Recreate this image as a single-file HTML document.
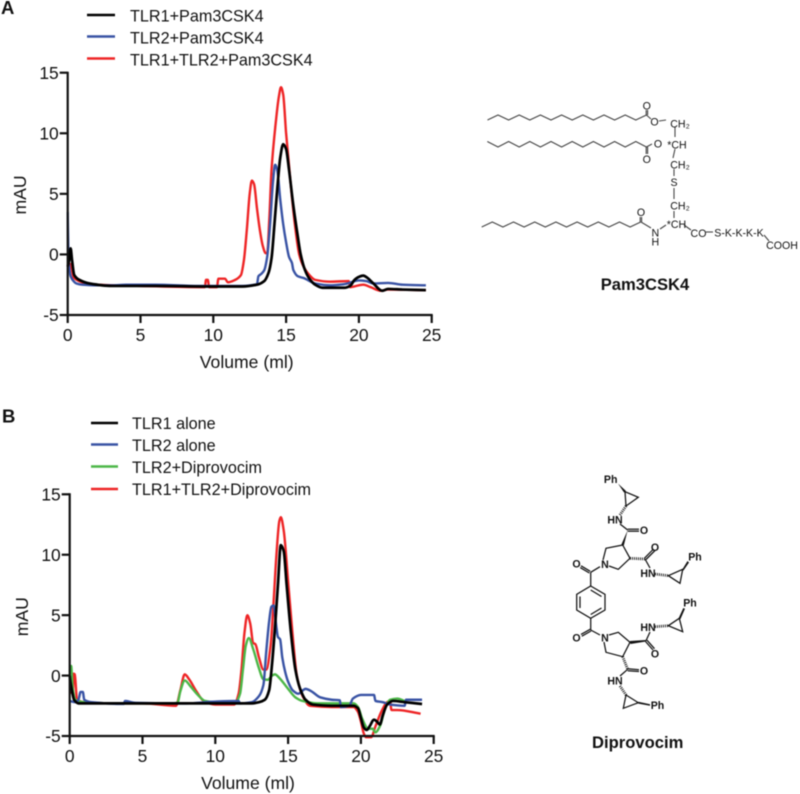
<!DOCTYPE html>
<html lang="en">
<head>
<meta charset="utf-8">
<title>Size-exclusion chromatography traces</title>
<style>
html,body{margin:0;padding:0;background:#fff;width:800px;height:794px;overflow:hidden}
svg{display:block;position:absolute;left:0;top:0;filter:blur(0.4px)}
text{font-family:"Liberation Sans",sans-serif;fill:#111}
.leg{font-size:16.2px}
.tick{font-size:17.4px}
.title{font-size:17.6px}
.panel{font-size:18.5px;font-weight:bold;fill:#111}
.pam text{font-size:10.6px;fill:#111;text-anchor:middle}
.dip text{font-size:10.6px;font-weight:bold;fill:#111;text-anchor:middle}
.pam text.name,.dip text.name{font-size:16.6px;font-weight:bold;fill:#111;text-anchor:middle}
.pam line,.pam polyline{stroke:#444;stroke-width:1.1;fill:none}
.dip line,.dip polyline,.dip polygon{stroke:#111;stroke-width:1.25;fill:none}
.dip polygon.w{fill:#111;stroke:none}
.dip line.h{stroke-width:2.8;stroke-dasharray:0.9 1.1}
</style>
</head>
<body>
<svg id="fig" width="800" height="794" viewBox="0 0 800 794" xmlns="http://www.w3.org/2000/svg">
  <text class="panel" x="1" y="14">A</text>
  <text class="panel" x="2" y="422.5">B</text>

  <g id="legend-a">
    <line x1="87" x2="115" y1="15" y2="15" stroke="#000" stroke-width="2.5"/>
    <text class="leg" x="130" y="21.5">TLR1+Pam3CSK4</text>
    <line x1="87" x2="115" y1="36.5" y2="36.5" stroke="#3953a4" stroke-width="2.5"/>
    <text class="leg" x="130" y="43.5">TLR2+Pam3CSK4</text>
    <line x1="87" x2="115" y1="58.5" y2="58.5" stroke="#ee2526" stroke-width="2.5"/>
    <text class="leg" x="130" y="65.5">TLR1+TLR2+Pam3CSK4</text>
  </g>
  <g id="legend-b">
    <line x1="91" x2="118" y1="423" y2="423" stroke="#000" stroke-width="2.5"/>
    <text class="leg" x="132" y="429">TLR1 alone</text>
    <line x1="91" x2="118" y1="444.5" y2="444.5" stroke="#3953a4" stroke-width="2.5"/>
    <text class="leg" x="132" y="451">TLR2 alone</text>
    <line x1="91" x2="118" y1="466.5" y2="466.5" stroke="#4cb748" stroke-width="2.5"/>
    <text class="leg" x="132" y="473">TLR2+Diprovocim</text>
    <line x1="91" x2="118" y1="489" y2="489" stroke="#ee2526" stroke-width="2.5"/>
    <text class="leg" x="132" y="495">TLR1+TLR2+Diprovocim</text>
  </g>

  <!-- Pam3CSK4 structure -->
  <g class="pam">
    <polyline id="chain1" points="487.5,120 498,115 508.6,120 519.2,115 529.8,120 540.4,115 551,120 561.6,115 572.2,120 582.8,115 593.4,120 604,115 614.6,120 625.2,115 635.8,120 646.4,115"/>
    <polyline points="487.3,141.5 498,147 508.6,141.5 519.2,147 529.8,141.5 540.4,147 551,141.5 561.6,147 572.2,141.5 582.8,147 593.4,141.5 604,147 614.6,141.5 625.2,147 635.8,141.5 646.4,147"/>
    <polyline points="481.7,227 492.3,222 502.9,227 513.5,222 524.1,227 534.7,222 545.3,227 555.9,222 566.5,227 577.1,222 587.7,227 598.3,222 608.9,227 619.5,222 630.1,227 640.7,222"/>
    <line x1="646.2" y1="115" x2="646.2" y2="110"/><line x1="647.6" y1="115" x2="647.6" y2="110"/>
    <line x1="646.4" y1="115" x2="651" y2="119"/>
    <line x1="659" y1="121" x2="666" y2="120"/>
    <line x1="675" y1="127" x2="675" y2="137"/>
    <line x1="646.2" y1="147" x2="646.2" y2="154"/><line x1="647.6" y1="147" x2="647.6" y2="154"/>
    <line x1="646.4" y1="147" x2="652" y2="144"/>
    <line x1="675" y1="149" x2="673" y2="158"/>
    <line x1="674" y1="169" x2="674" y2="176"/>
    <line x1="674" y1="188" x2="674" y2="199"/>
    <line x1="674" y1="211" x2="674" y2="218"/>
    <line x1="640.2" y1="222" x2="640.2" y2="217"/><line x1="641.6" y1="222" x2="641.6" y2="217"/>
    <line x1="641" y1="222" x2="651" y2="228"/>
    <line x1="660" y1="229" x2="666" y2="225"/>
    <line x1="684" y1="225" x2="691" y2="230"/>
    <line x1="706" y1="232" x2="713" y2="232"/>
    <line x1="764" y1="235" x2="769" y2="241"/>
    <text x="646.8" y="109.5">O</text>
    <text x="654.5" y="125.5">O</text>
    <text x="680" y="127.5">CH₂</text>
    <text x="658" y="147.5">O</text>
    <text x="677" y="148.5">*CH</text>
    <text x="646.8" y="163">O</text>
    <text x="680" y="168.5">CH₂</text>
    <text x="674" y="186">S</text>
    <text x="680" y="209.5">CH₂</text>
    <text x="641" y="216">O</text>
    <text x="655.3" y="236.5">N</text>
    <text x="655.3" y="245.5">H</text>
    <text x="676.5" y="228">*CH</text>
    <text x="698.5" y="237">CO</text>
    <text x="739" y="236.5">S-K-K-K-K</text>
    <text x="782" y="249">COOH</text>
    <text class="name" x="645" y="290">Pam3CSK4</text>
  </g>

  <!-- Diprovocim structure -->
  <g class="dip">
    <polygon class="w" points="618,483.5 626,491 624,492.5"/>
    <polygon points="625,491.7 638.3,497.3 626,506"/>
    <line class="h" x1="626" y1="506" x2="620" y2="515"/>
    <line x1="620" y1="524" x2="627.7" y2="530"/>
    <line x1="627.7" y1="529.2" x2="639" y2="529.2"/><line x1="627.7" y1="531.2" x2="639" y2="531.2"/>
    <polygon class="w" points="627.7,530 623.8,545.5 621.4,544.5"/>
    <polyline points="622.7,545 606,548.3 603,560"/>
    <polyline points="609,566 618.3,569.3 630,558.3 622.7,545"/>
    <line class="h" x1="630" y1="558.3" x2="645" y2="559"/>
    <line x1="644.5" y1="558.2" x2="653.5" y2="549"/><line x1="646" y1="559.5" x2="655" y2="550.5"/>
    <line x1="645" y1="559" x2="650" y2="568"/>
    <line class="h" x1="655" y1="574" x2="668.3" y2="575.7"/>
    <polygon points="668.3,575.7 682.7,569.3 680,583.3"/>
    <polygon class="w" points="682,570 687.5,561 689,562.5 683.5,570.5"/>
    <line x1="600" y1="566.7" x2="590.7" y2="572.3"/>
    <line x1="590.2" y1="571.3" x2="581" y2="565.8"/><line x1="589.4" y1="573" x2="580.2" y2="567.6"/>
    <line x1="590.7" y1="572.3" x2="590.7" y2="586"/>
    <polygon points="590.7,586 605,594.3 605,610 590.7,618.3 576.7,610 576.7,594.3"/>
    <line x1="590.7" y1="590" x2="601.5" y2="596.5"/><line x1="601.5" y1="608" x2="590.7" y2="614.5"/><line x1="580" y1="608" x2="580" y2="596.5"/>
    <line x1="590.7" y1="618.3" x2="590.7" y2="630"/>
    <line x1="590.4" y1="629.2" x2="581" y2="634.4"/><line x1="591" y1="631" x2="581.8" y2="636.2"/>
    <line x1="590.7" y1="630" x2="600" y2="635"/>
    <polyline points="609,635 618.3,632.3 630,642.3 622.7,656.7 606,652.3 604,642"/>
    <polygon class="w" points="630,641 646,640 646,641.5 630.5,644"/>
    <line x1="645.5" y1="641.5" x2="653" y2="650"/><line x1="647" y1="640.2" x2="654.5" y2="648.7"/>
    <line x1="646" y1="640.7" x2="650" y2="632"/>
    <line class="h" x1="655" y1="626.7" x2="668.3" y2="625.7"/>
    <polygon points="668.3,625.7 679.3,618.3 682.7,631.7"/>
    <polygon class="w" points="678.5,618.5 683.3,608 685,608.8 680.5,619"/>
    <line class="h" x1="622.7" y1="656.7" x2="627.7" y2="669.3"/>
    <line x1="627.7" y1="668.7" x2="639" y2="669.7"/><line x1="627.7" y1="670.7" x2="639" y2="671.5"/>
    <line x1="627.7" y1="669.3" x2="620" y2="676"/>
    <line class="h" x1="620" y1="686" x2="626" y2="695"/>
    <polygon points="626,695 623.3,708.3 638.3,702.7"/>
    <polygon class="w" points="638.3,701.8 650,704.2 650,705.8 638.3,703.6"/>
    <text x="610.7" y="483">Ph</text>
    <text x="615" y="523.5">HN</text>
    <text x="644" y="533.8">O</text>
    <text x="655" y="551">O</text>
    <text x="605" y="567.8">N</text>
    <text x="576.5" y="567.3">O</text>
    <text x="648" y="577">HN</text>
    <text x="695" y="560.5">Ph</text>
    <text x="690" y="606.5">Ph</text>
    <text x="648" y="631">HN</text>
    <text x="605" y="641.5">N</text>
    <text x="576.5" y="641.3">O</text>
    <text x="655" y="657.3">O</text>
    <text x="644" y="674.5">O</text>
    <text x="615" y="684.5">HN</text>
    <text x="657.5" y="708.8">Ph</text>
    <text class="name" x="637.7" y="748">Diprovocim</text>
  </g>

  <g id="chart-a"></g>
  <g id="chart-b"></g>
</svg>

<script>
var xTickValues = [0, 5, 10, 15, 20, 25];
var yTickValues = [-5, 0, 5, 10, 15];

var aRedX = [0.1,0.2,0.4,1,2,5,9.2,9.42,9.5,9.62,9.72,10.25,10.35,10.8,11,11.5,11.9,12.1,12.3,12.5,12.65,12.8,13,13.2,13.4,13.6,13.7,13.85,14,14.3,14.5,14.65,14.8,15,15.3,15.6,15.9,16.2,16.6,17,18,19.3,19.4,20,20.3,20.8,21.5,22,24.6];
var aRedY = [-1,-0.8,-1.9,-2.3,-2.5,-2.6,-2.7,-2.7,-2.1,-2.1,-2.7,-2.7,-2,-2,-2.3,-2.1,-1.7,-0.5,2,5,6.1,5.8,3.8,2,0.7,0.1,0.1,3,7,11,13,13.8,13.2,10,6,2.5,0,-1,-1.7,-2.1,-2.25,-2.2,-2.7,-2.55,-2.5,-2.7,-3,-2.9,-2.95];
var aBlueX = [0,0.05,0.1,0.2,0.4,0.6,1,2,3,4,6,9,12,13,13.1,13.3,13.5,13.7,13.9,14.1,14.25,14.4,14.6,14.8,15,15.2,15.4,15.5,15.8,16.2,17,18,19,20,20.5,21,22,23,24.6];
var aBlueY = [3.5,0,-1,-1.8,-2.2,-2.4,-2.5,-2.55,-2.55,-2.5,-2.5,-2.6,-2.6,-2.45,-1.8,-1.6,-1.3,-0.2,2.5,6,7.4,6.9,4.5,2.5,1,-0.2,-0.7,-1.3,-1.8,-1.95,-2.4,-2.55,-2.45,-2.15,-2.2,-2.4,-2.35,-2.5,-2.55];
var aBlackX = [0,0.1,0.2,0.3,0.45,0.8,1.5,3,6,10,12,13,13.5,13.8,14,14.2,14.4,14.6,14.8,15,15.2,15.5,15.8,16,16.3,16.6,17,17.5,19,19.4,19.7,20,20.3,20.6,21,21.6,22,23,24.6];
var aBlackY = [-1,-0.5,0.5,-0.5,-1.7,-2.1,-2.4,-2.6,-2.6,-2.65,-2.65,-2.5,-2.2,-1.5,-0.3,2.5,5.5,8,9.1,8.7,7,4,1.5,0,-1.3,-2,-2.5,-2.75,-2.75,-2.6,-2.1,-1.85,-1.75,-1.95,-2.4,-3,-2.85,-2.9,-2.95];

var bRedX = [0,0.15,0.22,0.27,0.35,0.5,1,3,5,7.3,7.6,7.9,8.2,8.7,9.2,10,11.3,11.6,11.8,12,12.2,12.4,12.6,12.75,13,13.3,13.5,13.8,14,14.2,14.4,14.5,14.7,15,15.3,15.6,16,16.5,18,19.5,19.8,20,20.2,20.35,20.7,21,21.4,21.8,22,22.1,22.5,24.1];
var bRedY = [-1.4,-1.4,-1.3,0.15,0.1,-2,-2.2,-2.3,-2.3,-2.5,-1.2,0.1,-0.3,-1.3,-2.1,-2.4,-2.4,-1.5,0.5,3.5,5,4.3,2.7,2.6,1.5,0.5,0.5,2.5,6,10,12.8,13.1,12,7.8,3.5,0,-1.7,-2.5,-2.6,-2.6,-3,-3.8,-4.8,-5.1,-5.1,-4.2,-3,-2.2,-2.1,-2.85,-2.85,-3.15];
var bGreenX = [0,0.1,0.2,0.4,1,3,7,7.4,7.6,7.9,8.3,8.8,9.3,10,11.4,11.7,11.9,12.1,12.3,12.6,13,13.3,13.6,13.9,14.1,14.4,15,15.5,16,17,19.5,19.8,20.1,20.5,20.8,21,21.3,21.7,22,22.5,23];
var bGreenY = [0.3,0.8,-1,-2,-2.2,-2.3,-2.3,-2.25,-1.3,-0.4,-0.9,-1.6,-2.1,-2.2,-2.2,-1.5,0.5,2.5,3.1,2.2,0.6,-0.3,-0.35,0,0.1,-0.2,-1.1,-1.8,-2.1,-2.3,-2.3,-2.6,-3.6,-4.4,-4.4,-4.7,-4.2,-2.6,-2,-1.9,-2.1];
var bBlueX = [0,0.4,0.6,0.75,0.9,1,1.5,3.7,3.8,4.5,8,10,11.6,11.7,12.5,13,13.3,13.5,13.7,13.85,14,14.2,14.3,14.45,14.6,14.8,15,15.3,15.7,16.2,16.6,17.2,18,18.55,18.62,19.2,19.45,20,20.9,21,21.5,22,23,23.1,24.2];
var bBlueY = [-2.1,-2.2,-2,-1.35,-1.35,-2,-2.2,-2.35,-2.1,-2.25,-2.3,-2.15,-2.1,-2.3,-2.2,-1.7,-0.8,2,4.5,5.7,5.8,4,3.2,3,1.5,0.3,-0.5,-1.2,-1.5,-1.1,-1.3,-1.8,-2,-2.05,-2.6,-2.5,-1.9,-1.6,-1.6,-2.1,-2.2,-2.4,-2.5,-2,-2];
var bBlackX = [0,0.05,0.15,0.3,0.6,2,7,12.5,13,13.4,13.7,13.9,14.1,14.3,14.5,14.7,14.9,15.2,15.5,15.8,16.2,16.7,18,19.5,19.8,20,20.2,20.4,20.6,20.9,21.1,21.3,21.5,21.8,22.2,23,24.2];
var bBlackY = [0,-0.5,-1.2,-2,-2.3,-2.3,-2.3,-2.3,-2.2,-2,-1.2,1,4,7.5,10.8,10.3,7.5,3.5,0.5,-1,-2,-2.4,-2.5,-2.5,-2.7,-3.5,-4.3,-4.5,-4.2,-3.65,-3.8,-4.05,-3.3,-2.4,-2.1,-2.2,-2.35];

var SVGNS = 'http://www.w3.org/2000/svg';

function make(tag, attrs, parent) {
  var el = document.createElementNS(SVGNS, tag);
  for (var k in attrs) el.setAttribute(k, attrs[k]);
  parent.appendChild(el);
  return el;
}

/* Monotone cubic path so peaks stay smooth without overshoot. */
function curvePath(px, py) {
  var n = px.length, d = [], m = [], i;
  for (i = 0; i < n - 1; i++) d.push((py[i + 1] - py[i]) / (px[i + 1] - px[i]));
  m.push(d[0]);
  for (i = 1; i < n - 1; i++) m.push(d[i - 1] * d[i] <= 0 ? 0 : 2 * d[i - 1] * d[i] / (d[i - 1] + d[i]));
  m.push(d[n - 2]);
  var s = 'M' + px[0].toFixed(2) + ' ' + py[0].toFixed(2);
  for (i = 0; i < n - 1; i++) {
    var h = (px[i + 1] - px[i]) / 3;
    s += 'C' + (px[i] + h).toFixed(2) + ' ' + (py[i] + h * m[i]).toFixed(2) + ' ' +
      (px[i + 1] - h).toFixed(2) + ' ' + (py[i + 1] - h * m[i + 1]).toFixed(2) + ' ' +
      px[i + 1].toFixed(2) + ' ' + py[i + 1].toFixed(2);
  }
  return s;
}

function drawChart(root, box, series) {
  var sx = function (v) { return box.x0 + (v - 0) * (box.x1 - box.x0) / 25; };
  var sy = function (v) { return box.yBottom + (v + 5) * (box.yTop - box.yBottom) / 20; };

  series.forEach(function (s) {
    var p = make('path', {
      d: curvePath(s.x.map(sx), s.y.map(sy)),
      fill: 'none', stroke: s.color, 'stroke-width': s.width, 'stroke-linejoin': 'round'
    }, root);
    
    
  });

  var yAxis = make('line', { x1: box.x0, x2: box.x0, y1: sy(15) - 1, y2: sy(-5) + 1, stroke: '#111', 'stroke-width': 2.2 }, root);
  
  
  var xAxis = make('line', { x1: box.x0 - 1, x2: sx(25) + 1, y1: sy(-5), y2: sy(-5), stroke: '#111', 'stroke-width': 2.2 }, root);
  
  

  xTickValues.forEach(function (v) {
    var t = make('line', { x1: sx(v), x2: sx(v), y1: sy(-5), y2: sy(-5) + 8, stroke: '#111', 'stroke-width': 2.2 }, root);
    
    
    var l = make('text', { x: sx(v), y: box.xLabelY, 'text-anchor': 'middle', 'class': 'tick' }, root);
    l.textContent = String(v);
    
    
  });
  yTickValues.forEach(function (v) {
    var t = make('line', { x1: box.x0 - 8, x2: box.x0, y1: sy(v), y2: sy(v), stroke: '#111', 'stroke-width': 2.2 }, root);
    
    
    var l = make('text', { x: box.x0 - 9, y: sy(v) + 6.2, 'text-anchor': 'end', 'class': 'tick' }, root);
    l.textContent = String(v);
    
    
  });

  var xt = make('text', { x: box.titleX, y: box.titleY, 'text-anchor': 'middle', 'class': 'title' }, root);
  xt.textContent = 'Volume (ml)';
  
  
  var yt = make('text', { x: 0, y: 0, 'text-anchor': 'middle', 'class': 'title', transform: 'translate(' + box.yTitleX + ' ' + box.yTitleY + ') rotate(-90)' }, root);
  yt.textContent = 'mAU';
  
  
}

drawChart(document.getElementById('chart-a'),
  { x0: 67.7, x1: 431.7, yTop: 72.7, yBottom: 315, xLabelY: 341, titleX: 246.7, titleY: 368, yTitleX: 26, yTitleY: 195 },
  [
    { name: 'series-tlr1-tlr2-pam', x: aRedX, y: aRedY, color: '#ee2526', width: 2.4 },
    { name: 'series-tlr2-pam', x: aBlueX, y: aBlueY, color: '#3953a4', width: 2.4 },
    { name: 'series-tlr1-pam', x: aBlackX, y: aBlackY, color: '#000000', width: 2.7 }
  ]);

drawChart(document.getElementById('chart-b'),
  { x0: 69.7, x1: 433.7, yTop: 494.3, yBottom: 736, xLabelY: 762, titleX: 248, titleY: 789, yTitleX: 28, yTitleY: 616.7 },
  [
    { name: 'series-tlr1-tlr2-dip', x: bRedX, y: bRedY, color: '#ee2526', width: 2.4 },
    { name: 'series-tlr2-dip', x: bGreenX, y: bGreenY, color: '#4cb748', width: 2.4 },
    { name: 'series-tlr2-alone', x: bBlueX, y: bBlueY, color: '#3953a4', width: 2.4 },
    { name: 'series-tlr1-alone', x: bBlackX, y: bBlackY, color: '#000000', width: 2.7 }
  ]);
</script>
</body>
</html>
